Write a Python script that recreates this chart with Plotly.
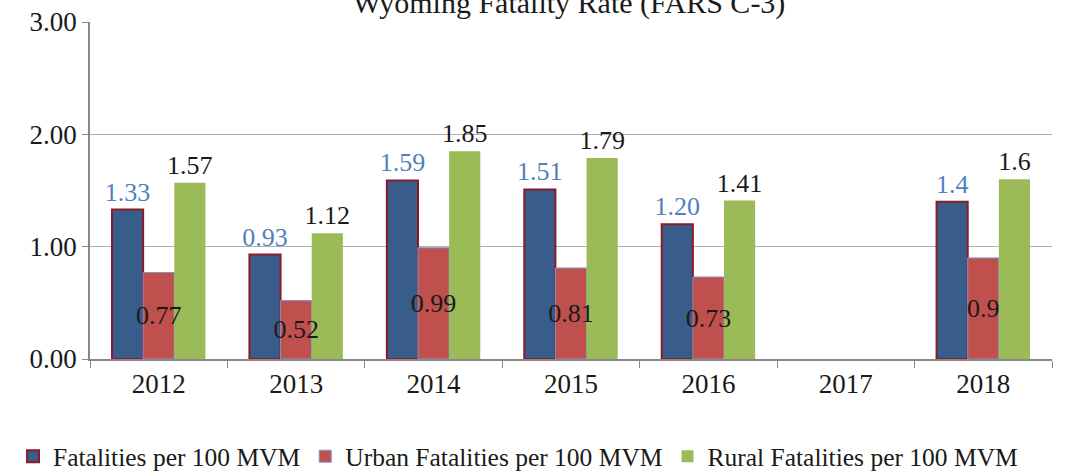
import plotly.graph_objects as go

years = ["2012", "2013", "2014", "2015", "2016", "2017", "2018"]
total = [1.33, 0.93, 1.59, 1.51, 1.20, None, 1.4]
total_labels = ["1.33", "0.93", "1.59", "1.51", "1.20", "", "1.4"]
urban = [0.77, 0.52, 0.99, 0.81, 0.73, None, 0.9]
urban_labels = ["0.77", "0.52", "0.99", "0.81", "0.73", "", "0.9"]
rural = [1.57, 1.12, 1.85, 1.79, 1.41, None, 1.6]
rural_labels = ["1.57", "1.12", "1.85", "1.79", "1.41", "", "1.6"]
y_ticks = [0, 1, 2, 3]
y_tick_labels = ["0.00", "1.00", "2.00", "3.00"]

FONT = "Liberation Serif"
TXT = "#1a1a1a"

fig = go.Figure()
fig.add_trace(go.Bar(
    x=years, y=total, name="Fatalities per 100 MVM", offsetgroup="a",
    marker=dict(color="#385D8A", line=dict(color="#8B1A2A", width=2)),
    text=total_labels, textposition="outside", cliponaxis=False, textangle=0,
    textfont=dict(family=FONT, size=26, color="#4F81BD"),
    constraintext="none", hoverinfo="x+y",
))
fig.add_trace(go.Bar(
    x=years, y=urban, name="Urban Fatalities per 100 MVM", offsetgroup="b",
    marker=dict(color="#C0504D", line=dict(color="#8096C0", width=1)),
    hoverinfo="x+y",
))
fig.add_trace(go.Bar(
    x=years, y=rural, name="Rural Fatalities per 100 MVM", offsetgroup="c",
    marker=dict(color="#9BBB59", line=dict(width=0)),
    text=rural_labels, textposition="outside", cliponaxis=False, textangle=0,
    textfont=dict(family=FONT, size=26, color=TXT),
    constraintext="none", hoverinfo="x+y",
))
# urban labels drawn on top of all bars (same slot as the urban bars)
fig.add_trace(go.Bar(
    x=years, y=urban, offsetgroup="b", showlegend=False,
    marker=dict(color="rgba(0,0,0,0)", line=dict(width=0)),
    text=urban_labels, textposition="inside", insidetextanchor="middle", textangle=0,
    textfont=dict(family=FONT, size=26, color=TXT),
    constraintext="none", hoverinfo="skip",
))

fig.update_layout(
    width=1086, height=476,
    margin=dict(l=90, r=34, t=22, b=117, autoexpand=False),
    paper_bgcolor="white", plot_bgcolor="white",
    barmode="group", bargap=0.32, bargroupgap=0,
    font=dict(family=FONT, size=26, color=TXT),
    title=dict(text="Wyoming Fatality Rate (FARS C-3)", x=0.524, xanchor="center",
               y=0.994, yref="container", yanchor="middle",
               font=dict(family=FONT, size=30, color=TXT)),
    showlegend=True,
    legend=dict(orientation="h", x=-0.08, xanchor="left",
                y=-0.22, yanchor="top",
                font=dict(family=FONT, size=25.5, color=TXT),
                itemwidth=30, tracegroupgap=0),
)
fig.update_xaxes(
    showline=True, linecolor="#888888", linewidth=1.5,
    ticks="outside", tickson="boundaries", ticklen=7, tickcolor="#888888",
    showgrid=False, tickfont=dict(family=FONT, size=27, color=TXT),
)
fig.update_yaxes(
    range=[0, 3], tickvals=y_ticks, ticktext=y_tick_labels,
    showline=True, linecolor="#888888", linewidth=1.5,
    ticks="outside", ticklen=6, tickcolor="#888888",
    showgrid=True, gridcolor="#B0B0B0", gridwidth=1.2,
    zeroline=False, tickfont=dict(family=FONT, size=27, color=TXT),
)

fig.write_html("out.html", config={"displayModeBar": False},
               post_script="document.body.style.margin='0';")
